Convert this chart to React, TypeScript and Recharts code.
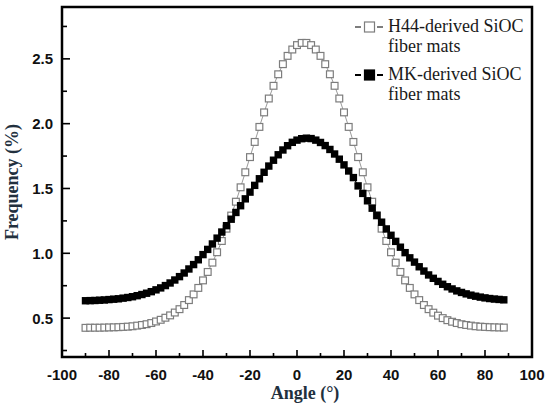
import { LineChart, Line, XAxis, YAxis, ReferenceArea, Legend } from "recharts";

const angles = [
  -90, -88, -86, -84, -82, -80, -78, -76, -74, -72, -70, -68, -66, -64, -62,
  -60, -58, -56, -54, -52, -50, -48, -46, -44, -42, -40, -38, -36, -34, -32,
  -30, -28, -26, -24, -22, -20, -18, -16, -14, -12, -10, -8, -6, -4, -2,
  0, 2, 4, 6, 8, 10, 12, 14, 16, 18, 20, 22, 24, 26, 28,
  30, 32, 34, 36, 38, 40, 42, 44, 46, 48, 50, 52, 54, 56, 58,
  60, 62, 64, 66, 68, 70, 72, 74, 76, 78, 80, 82, 84, 86, 88,
];

// H44-derived SiOC fiber mats
const h44 = [
  0.425, 0.426, 0.426, 0.426, 0.427, 0.428, 0.429, 0.43, 0.432, 0.434, 0.437, 0.442, 0.447, 0.453, 0.462,
  0.474, 0.487, 0.503, 0.521, 0.543, 0.569, 0.601, 0.639, 0.683, 0.733, 0.791, 0.856, 0.928, 1.008, 1.095,
  1.19, 1.291, 1.398, 1.509, 1.625, 1.742, 1.859, 1.975, 2.087, 2.194, 2.292, 2.381, 2.459, 2.523, 2.572,
  2.606, 2.623, 2.623, 2.606, 2.572, 2.523, 2.459, 2.381, 2.292, 2.194, 2.087, 1.975, 1.859, 1.742, 1.625,
  1.509, 1.398, 1.291, 1.19, 1.095, 1.008, 0.928, 0.856, 0.791, 0.733, 0.683, 0.639, 0.601, 0.569, 0.542,
  0.519, 0.5, 0.484, 0.472, 0.462, 0.453, 0.447, 0.442, 0.437, 0.434, 0.432, 0.43, 0.429, 0.428, 0.427,
];

// MK-derived SiOC fiber mats
const mk = [
  0.634, 0.635, 0.636, 0.638, 0.64, 0.643, 0.646, 0.649, 0.654, 0.659, 0.665, 0.673, 0.682, 0.692, 0.704,
  0.718, 0.733, 0.751, 0.771, 0.794, 0.82, 0.848, 0.879, 0.913, 0.95, 0.99, 1.03, 1.072, 1.117, 1.164,
  1.213, 1.263, 1.315, 1.367, 1.42, 1.472, 1.524, 1.575, 1.625, 1.673, 1.718, 1.76, 1.797, 1.83, 1.856,
  1.873, 1.884, 1.888, 1.885, 1.873, 1.855, 1.831, 1.801, 1.766, 1.726, 1.682, 1.635, 1.584, 1.52, 1.462,
  1.405, 1.348, 1.293, 1.24, 1.188, 1.139, 1.092, 1.047, 1.005, 0.965, 0.932, 0.896, 0.863, 0.833, 0.807,
  0.783, 0.761, 0.742, 0.725, 0.71, 0.698, 0.687, 0.677, 0.669, 0.662, 0.656, 0.651, 0.647, 0.644, 0.641,
];

const xTicks = [-100, -90, -80, -70, -60, -50, -40, -30, -20, -10, 0, 10, 20, 30, 40, 50, 60, 70, 80, 90, 100];
const yTicks = [0.25, 0.5, 0.75, 1.0, 1.25, 1.5, 1.75, 2.0, 2.25, 2.5, 2.75];

const seriesNames = ["H44-derived SiOC fiber mats", "MK-derived SiOC fiber mats"];

const data = angles.map((a, i) => ({ angle: a, h44: h44[i], mk: mk[i] }));

const serif = "'Liberation Serif', 'Times New Roman', serif";

const tickFont = {
  fontFamily: "'Liberation Sans', Arial, sans-serif",
  fontWeight: 700,
  fontSize: 15,
  fill: "#111",
};

const XTick = (props: any) => {
  const { x, y, payload } = props;
  const v = payload.value as number;
  const major = v % 20 === 0;
  return (
    <g>
      <line x1={x} x2={x} y1={y} y2={y - (major ? 7 : 4)} stroke="#000" strokeWidth={1.6} />
      {major && (
        <text x={x} y={y + 23} textAnchor="middle" {...tickFont}>
          {v}
        </text>
      )}
    </g>
  );
};

const YTick = (props: any) => {
  const { x, y, payload } = props;
  const v = payload.value as number;
  const major = Math.round(v * 100) % 50 === 0;
  return (
    <g>
      <line x1={x} x2={x + (major ? 8 : 5)} y1={y} y2={y} stroke="#000" strokeWidth={1.6} />
      {major && (
        <text x={x - 9} y={y + 5.5} textAnchor="end" {...tickFont}>
          {v.toFixed(1)}
        </text>
      )}
    </g>
  );
};

const H44Dot = (p: any) => (
  <rect
    key={`h-${p.index}`}
    x={p.cx - 3.4}
    y={p.cy - 3.4}
    width={6.8}
    height={6.8}
    fill="#fff"
    stroke="#7d7d7d"
    strokeWidth={1.2}
  />
);

const MkDot = (p: any) => (
  <rect key={`m-${p.index}`} x={p.cx - 3.7} y={p.cy - 3.7} width={7.4} height={7.4} fill="#000" stroke="none" />
);

const LegendBox = (props: any) => {
  const items = props.payload || [];
  return (
    <div style={{ fontFamily: serif, fontSize: 18, lineHeight: "20px", color: "#1a1a1a" }}>
      {items.map((it: any) => {
        const filled = it.dataKey === "mk";
        const c = filled ? "#000" : "#7d7d7d";
        return (
          <div key={it.dataKey} style={{ display: "flex", alignItems: "flex-start", marginBottom: 8 }}>
            <svg width={30} height={12} style={{ marginTop: 5, flex: "none" }}>
              <line x1={0} x2={6} y1={6} y2={6} stroke={c} strokeWidth={2} />
              <line x1={22} x2={28} y1={6} y2={6} stroke={c} strokeWidth={2} />
              <rect x={9.5} y={1} width={10} height={10} fill={filled ? "#000" : "#fff"} stroke={c} strokeWidth={1.2} />
            </svg>
            <span style={{ marginLeft: 3, width: 155 }}>{it.value}</span>
          </div>
        );
      })}
    </div>
  );
};

export default function App() {
  return (
    <div style={{ position: "fixed", top: 0, left: 0, width: 550, height: 411, background: "#fff" }}>
      <LineChart width={550} height={411} data={data} margin={{ top: 7, right: 18, bottom: 0, left: 0 }}>
        <XAxis
          type="number"
          dataKey="angle"
          domain={[-100, 100]}
          ticks={xTicks}
          interval={0}
          height={54}
          axisLine={false}
          tickLine={false}
          tickSize={0}
          tickMargin={0}
          tick={<XTick />}
          label={{
            content: (p: any) => (
              <text
                x={p.viewBox.x + p.viewBox.width / 2 + 8}
                y={p.viewBox.y + 42}
                textAnchor="middle"
                fontFamily={serif}
                fontWeight={700}
                fontSize={18}
                fill="#22303e"
              >
                Angle (°)
              </text>
            ),
          }}
        />
        <YAxis
          type="number"
          domain={[0.2, 2.9]}
          ticks={yTicks}
          interval={0}
          width={62}
          allowDataOverflow
          axisLine={false}
          tickLine={false}
          tickSize={0}
          tickMargin={0}
          tick={<YTick />}
          label={{
            content: (p: any) => {
              const cx = p.viewBox.x + 12;
              const cy = p.viewBox.y + p.viewBox.height / 2;
              return (
                <text
                  x={cx}
                  y={cy}
                  transform={`rotate(-90 ${cx} ${cy})`}
                  textAnchor="middle"
                  dominantBaseline="central"
                  fontFamily={serif}
                  fontWeight={700}
                  fontSize={18}
                  fill="#22303e"
                >
                  Frequency (%)
                </text>
              );
            },
          }}
        />
        <ReferenceArea
          x1={-100}
          x2={100}
          y1={0.2}
          y2={2.9}
          fill="none"
          stroke="#000"
          strokeWidth={2.5}
          ifOverflow="visible"
        />
        <Legend
          layout="vertical"
          align="center"
          verticalAlign="middle"
          content={<LegendBox />}
          wrapperStyle={{ top: 16, left: 355, width: 190 }}
        />
        <Line
          dataKey="h44"
          name={seriesNames[0]}
          stroke="#9a9a9a"
          strokeWidth={1}
          dot={H44Dot}
          isAnimationActive={false}
        />
        <Line
          dataKey="mk"
          name={seriesNames[1]}
          stroke="#000"
          strokeWidth={1}
          dot={MkDot}
          isAnimationActive={false}
        />
      </LineChart>
    </div>
  );
}
